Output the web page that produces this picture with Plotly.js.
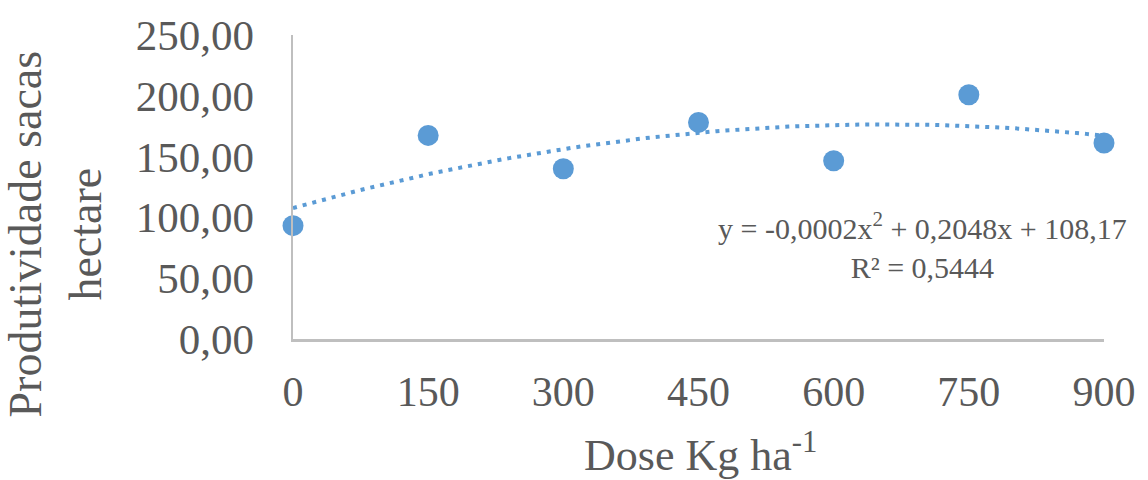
<!DOCTYPE html>
<html>
<head>
<meta charset="utf-8">
<script src="https://cdn.plot.ly/plotly-3.0.1.min.js"></script>
<style>html,body{margin:0;padding:0;background:#fff;}#chart{width:1148px;height:480px;}</style>
</head>
<body>
<div id="chart"></div>
<script>
const doses = [0, 150, 300, 450, 600, 750, 900];
const produtividade = [93.2, 167.4, 140.0, 178.1, 146.6, 200.9, 161.2];
const xTickVals = [0, 150, 300, 450, 600, 750, 900];
const xTickText = ['0', '150', '300', '450', '600', '750', '900'];
const yTickVals = [0, 50, 100, 150, 200, 250];
const yTickText = ['0,00', '50,00', '100,00', '150,00', '200,00', '250,00'];
const equationText = 'y = -0,0002x<sup>2</sup> + 0,2048x + 108,17<br>R² = 0,5444';

// least-squares quadratic fit (as the spreadsheet trendline does)
function quadFit(xs, ys) {
  let S = [0,0,0,0,0], T = [0,0,0];
  for (let i = 0; i < xs.length; i++) {
    let p = 1;
    for (let k = 0; k < 5; k++) { S[k] += p; if (k < 3) T[k] += p * ys[i]; p *= xs[i]; }
  }
  const A = [[S[0],S[1],S[2],T[0]],[S[1],S[2],S[3],T[1]],[S[2],S[3],S[4],T[2]]];
  for (let c = 0; c < 3; c++) {
    for (let r = c + 1; r < 3; r++) {
      const f = A[r][c] / A[c][c];
      for (let k = c; k < 4; k++) A[r][k] -= f * A[c][k];
    }
  }
  const sol = [0,0,0];
  for (let r = 2; r >= 0; r--) {
    let s = A[r][3];
    for (let k = r + 1; k < 3; k++) s -= A[r][k] * sol[k];
    sol[r] = s / A[r][r];
  }
  return sol;
}
const coef = quadFit(doses, produtividade);
const trendX = [], trendY = [];
for (let i = 0; i <= 90; i++) {
  const x = doses[0] + (doses[doses.length-1] - doses[0]) * i / 90;
  trendX.push(x);
  trendY.push(coef[0] + coef[1]*x + coef[2]*x*x);
}

const blue = '#5b9bd5';
const txt = '#595959';
const serif = 'Liberation Serif, Times New Roman, serif';

const traces = [
  {x: trendX, y: trendY, mode: 'lines', type: 'scatter',
   line: {color: blue, width: 4, dash: '4px,6px'}, hoverinfo: 'skip', cliponaxis: false},
  {x: doses, y: produtividade, mode: 'markers', type: 'scatter',
   marker: {color: blue, size: 21}, cliponaxis: false}
];

const layout = {
  width: 1148, height: 480,
  margin: {l: 293, r: 44, t: 35, b: 141},
  paper_bgcolor: '#fff', plot_bgcolor: '#fff',
  showlegend: false,
  font: {family: serif, color: txt, size: 42},
  xaxis: {
    range: [0, 900], tickvals: xTickVals, ticktext: xTickText,
    showgrid: false, zeroline: false, showline: true, linecolor: '#bfbfbf', linewidth: 2.5,
    ticks: '', ticklabelstandoff: 14, tickfont: {family: serif, size: 42, color: txt}
  },
  yaxis: {
    range: [0, 250], tickvals: yTickVals, ticktext: yTickText,
    showgrid: false, zeroline: false, showline: true, linecolor: '#bfbfbf', linewidth: 2.5,
    ticks: '', ticklabelstandoff: 28, tickfont: {family: serif, size: 43, color: txt}
  },
  annotations: [
    {text: 'Produtividade sacas<br>hectare', textangle: -90, xref: 'paper', yref: 'paper',
     x: -0.293, y: 0.345, xanchor: 'center', yanchor: 'middle', showarrow: false,
     font: {family: serif, size: 46, color: txt}},
    {text: 'Dose Kg ha<sup>-1</sup>', xref: 'paper', yref: 'paper',
     x: 0.502, y: -0.374, xanchor: 'center', yanchor: 'middle', showarrow: false,
     font: {family: serif, size: 44, color: txt}},
    {text: equationText, xref: 'paper', yref: 'paper',
     x: 0.776, y: 0.309, xanchor: 'center', yanchor: 'middle', showarrow: false,
     font: {family: serif, size: 30, color: txt}}
  ]
};

Plotly.newPlot('chart', traces, layout, {displayModeBar: false, staticPlot: true});
</script>
</body>
</html>
